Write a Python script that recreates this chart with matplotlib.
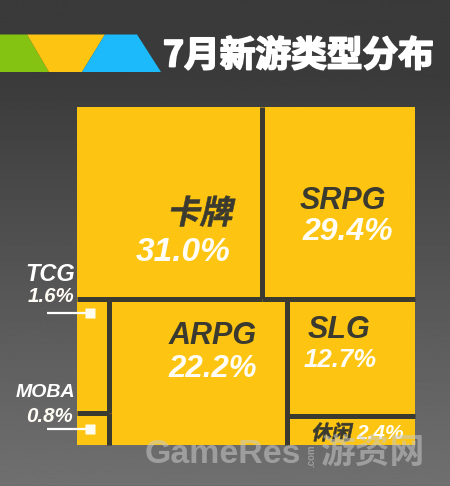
import matplotlib
matplotlib.use("Agg")
import matplotlib.pyplot as plt
import matplotlib.patches as mpatches
import matplotlib.patheffects as pe
from matplotlib.transforms import Affine2D
import numpy as np

YELLOW = "#fdc511"
DARK = "#3a3a30"
LATIN = "Liberation Sans"
CJK = "Noto Sans CJK SC"

# shares as printed on the chart
labels = ["卡牌", "SRPG", "ARPG", "SLG", "休闲", "TCG", "MOBA"]
printed = ["31.0%", "29.4%", "22.2%", "12.7%", "2.4%", "1.6%", "0.8%"]
# areas as actually drawn (the picture is not to scale), in % of the square
drawn = [31.1, 25.6, 22.8, 13.1, 3.3, 3.2, 0.9]


class Skew(pe.AbstractPathEffect):
    # fake italic for the CJK font, which has no oblique cut
    def __init__(self, deg, stroke=0.0):
        super().__init__()
        self.deg = deg
        self.stroke = stroke

    def draw_path(self, renderer, gc, tpath, affine, rgbFace):
        gc0 = renderer.new_gc()
        gc0.copy_properties(gc)
        gc0.set_linewidth(self.stroke)
        gc0.set_foreground(rgbFace)
        renderer.draw_path(gc0, tpath, Affine2D().skew_deg(self.deg, 0) + affine, rgbFace)
        gc0.restore()


def layout(areas, x0, y0, w, h):
    # rows/columns in the same nesting as the picture
    card, srpg, arpg, slg, casual, tcg, moba = areas
    total = sum(areas)
    top_h = h * (card + srpg) / total
    card_w = w * card / (card + srpg)
    rects = {}
    rects["卡牌"] = (x0, y0, card_w, top_h)
    rects["SRPG"] = (x0 + card_w, y0, w - card_w, top_h)
    y1 = y0 + top_h
    bot_h = h - top_h
    bottom = tcg + moba + arpg + slg + casual
    left_w = w * (tcg + moba) / bottom
    mid_w = w * arpg / bottom
    right_w = w - left_w - mid_w
    tcg_h = bot_h * tcg / (tcg + moba)
    slg_h = bot_h * slg / (slg + casual)
    rects["TCG"] = (x0, y1, left_w, tcg_h)
    rects["MOBA"] = (x0, y1 + tcg_h, left_w, bot_h - tcg_h)
    rects["ARPG"] = (x0 + left_w, y1, mid_w, bot_h)
    rects["SLG"] = (x0 + left_w + mid_w, y1, right_w, slg_h)
    rects["休闲"] = (x0 + left_w + mid_w, y1 + slg_h, right_w, bot_h - slg_h)
    return rects


fig = plt.figure(figsize=(4.5, 4.86), dpi=100)
ax = fig.add_axes([0, 0, 1, 1])
ax.set_xlim(0, 450)
ax.set_ylim(486, 0)
ax.axis("off")

# background
grad = np.clip((np.linspace(0, 1, 486) - 0.15) / 0.85, 0, 1)[:, None]
grad = 0x3a + grad * (0x70 - 0x3a)
ax.imshow(grad, extent=(0, 450, 486, 0), cmap="gray", vmin=0, vmax=255, aspect="auto", zorder=0)
ax.plot([0, 450], [485.5, 485.5], color="#333333", lw=0.8, zorder=1)

# header banner
ax.add_patch(mpatches.Polygon([(0, 34.5), (27, 34.5), (49, 72), (0, 72)], fc="#84c312", ec="none"))
ax.add_patch(mpatches.Polygon([(27, 34.5), (105, 34.5), (82, 72), (49, 72)], fc=YELLOW, ec="none"))
ax.add_patch(mpatches.Polygon([(105, 34.5), (137, 34.5), (161, 72), (82, 72)], fc="#1cb9fb", ec="none"))
ax.text(163, 56, "7月新游类型分布", color="white", fontsize=25.7, fontweight="bold",
        family=[CJK], va="center", ha="left",
        path_effects=[pe.withStroke(linewidth=1.3, foreground="white")], zorder=5)

# treemap, separators only on the inner edges
X0, Y0, SIDE = 77, 107, 338
rects = layout(drawn, X0, Y0, SIDE, SIDE)
for name in labels:
    x, y, w, h = rects[name]
    ax.add_patch(mpatches.Rectangle((x, y), w, h, fc=YELLOW, ec="none", zorder=2))
for name in labels:
    x, y, w, h = rects[name]
    if x + w < X0 + SIDE - 0.5:
        ax.plot([x + w, x + w], [y, y + h], color=DARK, lw=3.6, solid_capstyle="butt", zorder=3)
    if y + h < Y0 + SIDE - 0.5:
        ax.plot([x, x + w], [y + h, y + h], color=DARK, lw=3.6, solid_capstyle="butt", zorder=3)

# leader lines for the two thin cells
for name in ["TCG", "MOBA"]:
    x, y, w, h = rects[name]
    ym = y + h - 16 if name == "MOBA" else y + 14.5
    ax.plot([47, 90], [ym, ym], color="white", lw=1.6, zorder=3, solid_capstyle="butt")
    ax.plot([90], [ym], marker="s", ms=7.4, color="#fffdf0", mec="none", zorder=3)

# text anchors: name (x, y, size), value (x, y, size), centred
name_style = {
    "卡牌": (199.5, 214, 23.5), "SRPG": (343, 201, 22), "ARPG": (213, 336, 22),
    "SLG": (339, 330, 22), "休闲": (331, 433, 14.5), "TCG": (50, 274, 17), "MOBA": (45.5, 392, 14),
}
value_style = {
    "卡牌": (183, 252, 24), "SRPG": (348, 232, 23), "ARPG": (213, 369, 22.5),
    "SLG": (340, 360, 18.5), "休闲": (380.5, 433, 15), "TCG": (51.5, 296, 14.8), "MOBA": (50, 416, 14.8),
}
for name, value in zip(labels, printed):
    nx, ny, ns = name_style[name]
    vx, vy, vs = value_style[name]
    outside = name in ("TCG", "MOBA")
    if name in ("卡牌", "休闲"):
        ax.text(nx, ny, name, color=DARK, fontsize=ns, family=[CJK], fontweight="bold",
                ha="center", va="center", path_effects=[Skew(12, 0.4)], zorder=4)
    else:
        ax.text(nx, ny, name, color="white" if outside else DARK, fontsize=ns, family=[LATIN],
                fontweight="bold", style="italic", ha="center", va="center", zorder=4)
    ax.text(vx, vy, value, color="#fffdf5", fontsize=vs, family=[LATIN],
            fontweight="bold", style="italic", ha="center", va="center", zorder=4)

# watermark
ax.text(222.5, 454, "GameRes", color="#c8c8c8", alpha=0.55, fontsize=24.4, family=[LATIN],
        fontweight="bold", ha="center", va="center", zorder=6)
ax.text(311, 456, ".com", color="#c8c8c8", alpha=0.55, fontsize=7, family=[LATIN],
        fontweight="bold", rotation=90, ha="center", va="center", zorder=6)
ax.text(372, 452, "游资网", color="#c8c8c8", alpha=0.55, fontsize=25, family=[CJK],
        fontweight="bold", ha="center", va="center", zorder=6)

fig.savefig("out.png", dpi=100)
